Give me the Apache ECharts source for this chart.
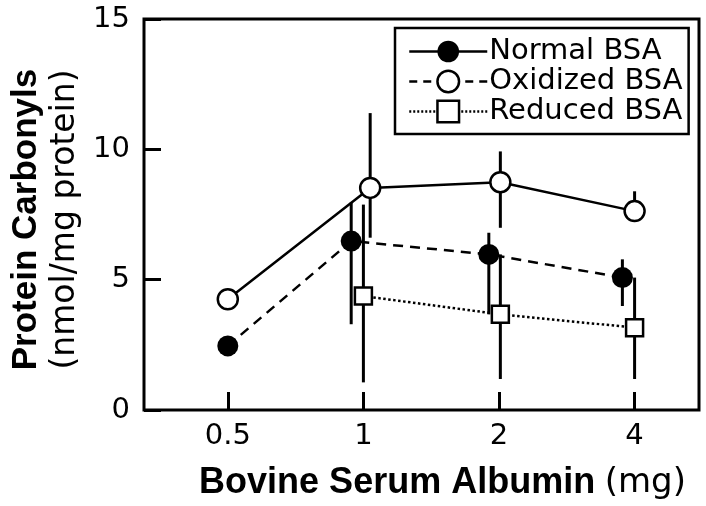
<!DOCTYPE html>
<html>
<head>
<meta charset="utf-8">
<script src="https://cdn.jsdelivr.net/npm/echarts@6/dist/echarts.min.js"></script>
<style>
  html, body { margin: 0; padding: 0; background: #fff; }
  #chart { width: 706px; height: 506px; }
</style>
</head>
<body>
<div id="chart"></div>
<script>
// dose categories, drawn at positions 0..3 on the x axis
var doses = ['0.5', '1', '2', '4']
var dosePos = [0, 1, 2, 3]

// Normal BSA (filled circles)
var normalX = [0, 0.91, 1.925, 2.91]
var normalY = [2.46, 6.48, 5.97, 5.08]
var normalLo = [null, 3.29, 3.67, 3.99]
var normalHi = [null, 7.96, 6.8, 5.78]

// Oxidized BSA (open circles)
var oxidizedX = [0, 1.05, 2.01, 3.0]
var oxidizedY = [4.25, 8.52, 8.74, 7.63]
var oxidizedLo = [null, 6.61, 6.99, 7.24]
var oxidizedHi = [null, 11.39, 9.92, 8.39]

// Reduced BSA (open squares)
var reducedX = [1.0, 2.01, 3.0]
var reducedY = [4.37, 3.67, 3.16]
var reducedLo = [1.06, 1.19, 1.19]
var reducedHi = [7.88, 5.97, 5.08]

var yTicks = [0, 5, 10, 15]

var REG = 'DejaVu Sans'
var BOLD = 'Liberation Sans'

function pairs(xs, ys) {
  return xs.map(function (x, i) { return [x, ys[i]] })
}
function errData(xs, lo, hi) {
  var out = []
  xs.forEach(function (x, i) {
    if (lo[i] != null) out.push([x, lo[i], hi[i]])
  })
  return out
}

var errorBars = []
  .concat(errData(normalX, normalLo, normalHi))
  .concat(errData(oxidizedX, oxidizedLo, oxidizedHi))
  .concat(errData(reducedX, reducedLo, reducedHi))

var chart = echarts.init(document.getElementById('chart'))
chart.setOption({
  animation: false,
  grid: {
    left: 144, top: 19, right: 7, bottom: 96,
    show: true, borderColor: '#000', borderWidth: 3, backgroundColor: 'transparent'
  },
  legend: {
    orient: 'vertical',
    left: 395, top: 28,
    padding: [9, 6, 8, 13],
    itemWidth: 78, itemHeight: 27, itemGap: 1,
    borderColor: '#000', borderWidth: 2.5, borderRadius: 0,
    textStyle: { fontFamily: REG, fontSize: 29, lineHeight: 26, color: '#000', padding: [0, 0, 0, -3] },
    data: [
      { name: 'Normal BSA', lineStyle: { type: 'solid', width: 2.5, color: '#000' }, itemStyle: { borderWidth: 0 } },
      { name: 'Oxidized BSA', lineStyle: { type: [8, 6], width: 2.5, color: '#000' }, itemStyle: { borderWidth: 2.5 } },
      { name: 'Reduced BSA', lineStyle: { type: [2, 2], width: 2.5, color: '#000' }, itemStyle: { borderWidth: 2.5 } }
    ]
  },
  xAxis: {
    type: 'value',
    min: -0.618, max: 3.475,
    axisLine: { show: false, onZero: false },
    splitLine: { show: false },
    axisTick: { show: true, inside: true, length: 18, customValues: dosePos, lineStyle: { color: '#000', width: 3 } },
    axisLabel: {
      customValues: dosePos,
      formatter: function (v) { return doses[Math.round(v)] },
      fontFamily: REG, fontSize: 29, color: '#000', margin: 12
    },
    name: '{b|Bovine Serum Albumin}{s| }{r|(mg)}',
    nameLocation: 'middle',
    nameGap: 55,
    nameTextStyle: {
      padding: [0, 0, 0, 42],
      rich: {
        b: { fontFamily: BOLD, fontWeight: 'bold', fontSize: 36, color: '#000' },
        s: { fontFamily: REG, fontSize: 30 },
        r: { fontFamily: REG, fontSize: 34, color: '#000' }
      }
    }
  },
  yAxis: {
    type: 'value',
    min: 0, max: 15, interval: 5,
    axisLine: { show: false, onZero: false },
    splitLine: { show: false },
    axisTick: { show: true, inside: true, length: 17, lineStyle: { color: '#000', width: 3 } },
    axisLabel: {
      customValues: yTicks,
      fontFamily: REG, fontSize: 29, color: '#000', margin: 14
    },
    name: '{b|Protein Carbonyls}\n{r|(nmol/mg protein)}',
    nameLocation: 'middle',
    nameRotate: 90,
    nameGap: 58,
    nameTextStyle: {
      padding: [0, 10, 0, 0],
      rich: {
        b: { fontFamily: BOLD, fontWeight: 'bold', fontSize: 35, color: '#000', lineHeight: 38 },
        r: { fontFamily: REG, fontSize: 33, color: '#000', lineHeight: 40 }
      }
    }
  },
  series: [
    {
      name: 'errors',
      type: 'custom',
      data: errorBars,
      encode: { x: 0, y: [1, 2] },
      renderItem: function (params, api) {
        var top = api.coord([api.value(0), api.value(2)])
        var bottom = api.coord([api.value(0), api.value(1)])
        return {
          type: 'line',
          shape: { x1: top[0], y1: top[1], x2: bottom[0], y2: bottom[1] },
          style: { stroke: '#000', lineWidth: 3 }
        }
      },
      silent: true
    },
    {
      name: 'Normal BSA',
      type: 'line',
      data: pairs(normalX, normalY),
      symbol: 'circle',
      symbolSize: 21,
      lineStyle: { color: '#000', width: 2.5, type: [10, 7] },
      itemStyle: { color: '#000', borderColor: '#000', borderWidth: 0 }
    },
    {
      name: 'Oxidized BSA',
      type: 'line',
      data: pairs(oxidizedX, oxidizedY),
      symbol: 'circle',
      symbolSize: 20,
      lineStyle: { color: '#000', width: 2.5, type: 'solid' },
      itemStyle: { color: '#fff', borderColor: '#000', borderWidth: 2.5 }
    },
    {
      name: 'Reduced BSA',
      type: 'line',
      data: pairs(reducedX, reducedY),
      symbol: 'rect',
      symbolSize: 17,
      lineStyle: { color: '#000', width: 2.5, type: [2.5, 2.5] },
      itemStyle: { color: '#fff', borderColor: '#000', borderWidth: 2.5 }
    }
  ]
})
</script>
</body>
</html>
